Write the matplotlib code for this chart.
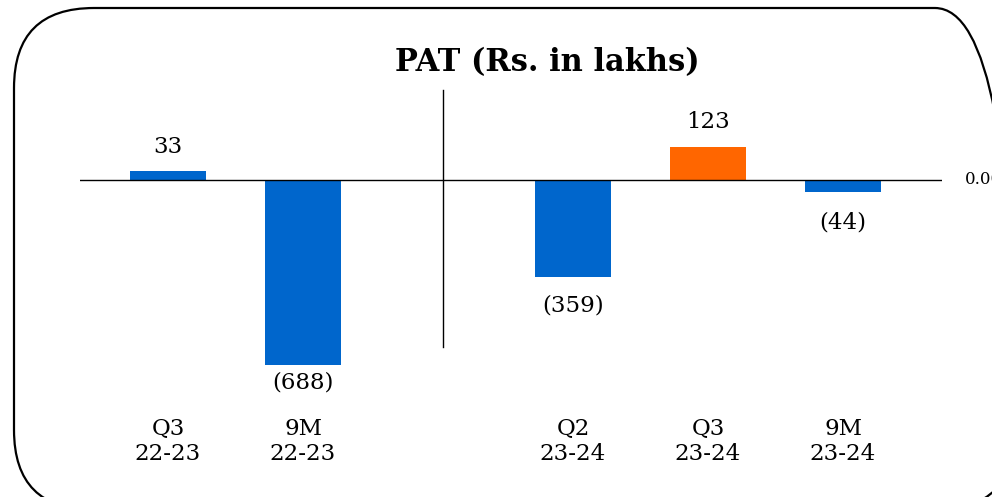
import matplotlib.pyplot as plt
from matplotlib.patches import FancyBboxPatch
from matplotlib.transforms import IdentityTransform

# Data
categories = ['Q3\n22-23', '9M\n22-23', '', 'Q2\n23-24', 'Q3\n23-24', '9M\n23-24']
values = [33, -688, 0, -359, 123, -44]
labels = ['33', '(688)', '', '(359)', '123', '(44)']
colors = ['#0066CC', '#0066CC', 'none', '#0066CC', '#FF6600', '#0066CC']
label_offsets = [24, -17, 0, -29, 25, -31]   # px from bar end

plt.rcParams['font.family'] = ['DejaVu Serif']

fig = plt.figure(figsize=(9.92, 4.97), dpi=100)

# rounded frame around everything
frame = FancyBboxPatch((14, -13), 1001, 502,
                       boxstyle='round,pad=0,rounding_size=80',
                       transform=IdentityTransform(), facecolor='none',
                       edgecolor='black', linewidth=1.6, clip_on=False)
fig.patches.append(frame)

ax = fig.add_axes([80 / 992, 27 / 497, 862 / 992, 410 / 497])
x = list(range(len(values)))
ax.bar(x, values, width=0.56, color=colors)
ax.set_xlim(-0.652, 5.733)
ax.set_ylim(-1078, 446)
ax.axhline(0, color='black', linewidth=1)
ax.plot([2.04, 2.04], [335, -621], color='black', linewidth=1)

for xi, v, lab, off in zip(x, values, labels, label_offsets):
    if lab:
        ax.annotate(lab, (xi, v), xytext=(0, off * 0.72), textcoords='offset points',
                    ha='center', va='center', fontsize=16.5)

for xi, cat in zip(x, categories):
    ax.text(xi, -971, cat, ha='center', va='center', fontsize=16.5, linespacing=1.2)

ax.text(965 / 992, (497 - 180) / 497, '0.00', transform=fig.transFigure,
        ha='left', va='center', fontsize=12)

fig.text(547 / 992, (497 - 63) / 497, 'PAT (Rs. in lakhs)', ha='center', va='center',
         fontsize=22, fontweight='bold')

ax.axis('off')
fig.savefig('out.png', dpi=100)
